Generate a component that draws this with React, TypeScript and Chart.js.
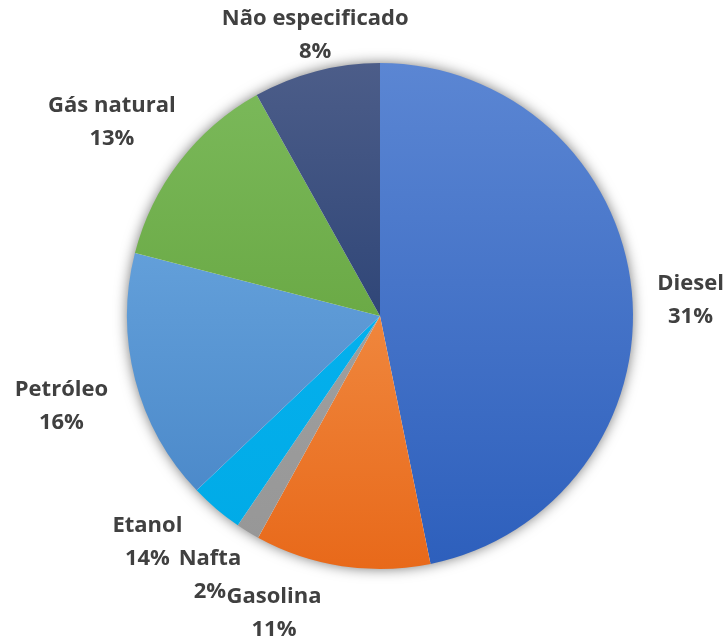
import React, { useEffect, useRef } from "react";
import { Chart, registerables } from "chart.js";

Chart.register(...registerables);

// ---- data ----
const categories = ["Diesel", "Gasolina", "Nafta", "Etanol", "Petróleo", "Gás natural", "Não especificado"];
const shares = [46.8, 11.2, 1.5, 3.4, 16.1, 12.9, 8.1];
const percentLabels = ["31%", "11%", "2%", "14%", "16%", "13%", "8%"];

// ---- styles ----
const gradientTop = ["#5b86d3", "#f7a460", "#a8a8a8", "#08b6f4", "#74b0e6", "#7cba5c", "#4c5d89"];
const gradientBottom = ["#2d5fbc", "#e8691a", "#969696", "#00aae6", "#4583c5", "#5a9a30", "#132f66"];
const labelNudge: [number, number][] = [
  [19, 14],
  [-62, 8],
  [-17, 9],
  [-43, 3],
  [-35, 16],
  [-36, -15],
  [9, 3],
];
const LABEL_PAD = 40;
const LINE_GAP = 33;
const FONT = "bold 22px 'Open Sans', 'Liberation Sans', sans-serif";

const shadowPlugin = {
  id: "pieShadow",
  beforeDatasetsDraw(chart: any) {
    const meta = chart.getDatasetMeta(0);
    const arc = meta.data[0];
    if (!arc) return;
    const { x, y, outerRadius } = arc.getProps(["x", "y", "outerRadius"], true);
    const ctx = chart.ctx;
    ctx.save();
    ctx.beginPath();
    ctx.arc(x, y, outerRadius - 1, 0, Math.PI * 2);
    ctx.shadowColor = "rgba(0,0,0,0.6)";
    ctx.shadowBlur = 14;
    ctx.shadowOffsetX = 0;
    ctx.shadowOffsetY = 0;
    ctx.fillStyle = "#ffffff";
    ctx.fill();
    ctx.restore();
  },
};

const labelPlugin = {
  id: "outsideLabels",
  afterDatasetsDraw(chart: any) {
    const meta = chart.getDatasetMeta(0);
    const ctx = chart.ctx;
    ctx.save();
    ctx.font = FONT;
    ctx.fillStyle = "#404040";
    ctx.textAlign = "center";
    ctx.textBaseline = "middle";
    meta.data.forEach((el: any, i: number) => {
      const { x, y, startAngle, endAngle, outerRadius } = el.getProps(
        ["x", "y", "startAngle", "endAngle", "outerRadius"],
        true
      );
      const mid = (startAngle + endAngle) / 2;
      const r = outerRadius + LABEL_PAD;
      const cx = x + Math.cos(mid) * r + labelNudge[i][0];
      const cy = y + Math.sin(mid) * r + labelNudge[i][1];
      ctx.fillText(categories[i], cx, cy - LINE_GAP / 2);
      ctx.fillText(percentLabels[i], cx, cy + LINE_GAP / 2);
    });
    ctx.restore();
  },
};

export default function App() {
  const ref = useRef<HTMLCanvasElement | null>(null);
  useEffect(() => {
    document.body.style.margin = "0";
    const canvas = ref.current;
    if (!canvas) return;
    const chart = new Chart(canvas, {
      type: "pie",
      data: {
        labels: categories,
        datasets: [
          {
            data: shares,
            borderWidth: 0,
            backgroundColor: (c: any) => {
              const chartRef = c.chart;
              const area = chartRef.chartArea;
              const i = c.dataIndex;
              if (!area || i === undefined) return gradientBottom[i ?? 0];
              const g = chartRef.ctx.createLinearGradient(0, area.top, 0, area.bottom);
              g.addColorStop(0, gradientTop[i]);
              g.addColorStop(1, gradientBottom[i]);
              return g;
            },
          },
        ],
      },
      options: {
        responsive: false,
        animation: false,
        layout: { padding: { left: 127, right: 94, top: 63, bottom: 74 } },
        plugins: {
          legend: { display: false },
          tooltip: { enabled: false },
        },
      },
      plugins: [shadowPlugin, labelPlugin],
    });
    return () => chart.destroy();
  }, []);
  return (
    <div style={{ position: "absolute", left: 0, top: 0, width: 727, height: 643, background: "#fff" }}>
      <canvas ref={ref} width={727} height={643} style={{ width: 727, height: 643 }} />
    </div>
  );
}
